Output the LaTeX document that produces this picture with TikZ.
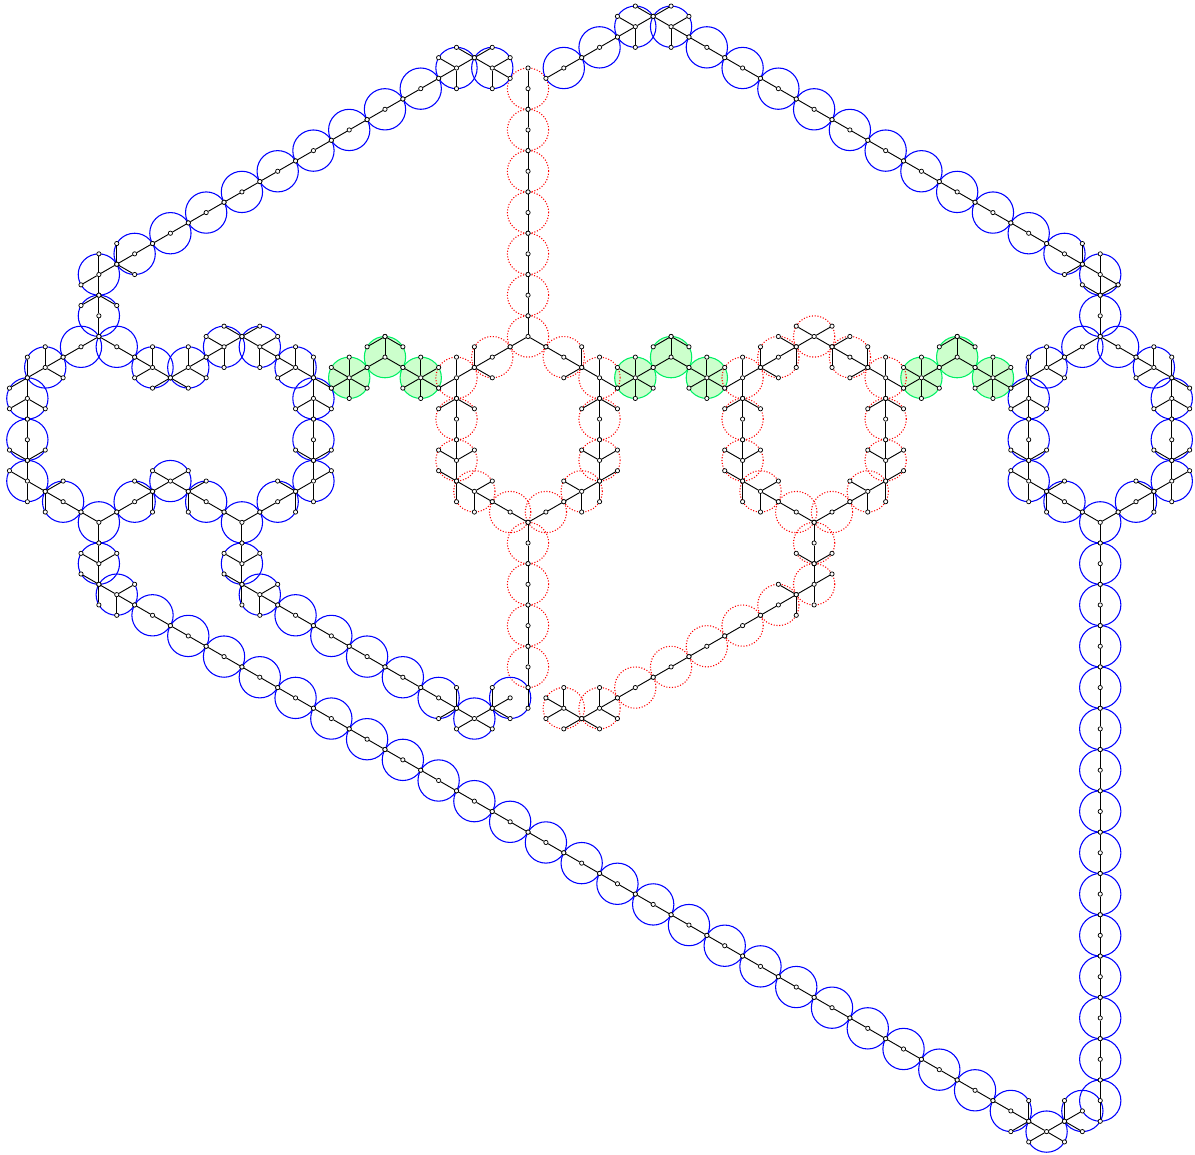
\documentclass[tikz,border=0pt]{standalone}
\usepackage{xcolor}
\usepackage{tikz}

\definecolor{ringgreen}{RGB}{0,240,100}
\definecolor{fillgreen}{RGB}{204,255,204}

\pgfdeclarelayer{rings}
\pgfsetlayers{rings,main}

\tikzset{
  vtx/.style={draw, circle, fill=white, inner sep=0pt, minimum size=3.2pt, line width=0.55pt},
  edge/.style={line width=0.7pt},
  ring/.style={draw, circle, inner sep=0pt, minimum size=30.97pt, line width=0.8pt},
  bluering/.style={ring, blue},
  redring/.style={ring, red, line width=0.8pt, dash pattern=on 0.8pt off 1.3pt},
  greenring/.style={ring, ringgreen, fill=fillgreen}
}

\newcommand{\spokes}[3]{%
  \node[vtx] (v#1x#2) at (#1,#2) {};
  \edef\dirlist{#3}
  \foreach \dir in \dirlist {
    \pgfmathtruncatemacro{\toI}{#1+{1,0,-1,-1,0,1}[\dir-1]}
    \pgfmathtruncatemacro{\toJ}{#2+{-1,-2,-1,1,2,1}[\dir-1]}
    \node[vtx] (v\toI x\toJ) at (\toI,\toJ) {};
    \draw[edge] (v#1x#2) -- (v\toI x\toJ);
  }
}
\newcommand{\gadget}[4]{%
  \begin{pgfonlayer}{rings}
    \node[#1] (c#2x#3) at (#2,#3) {};
  \end{pgfonlayer}
  \spokes{#2}{#3}{#4}
}
\newcommand{\wirerun}[5]{%
  \foreach \i in {#2} {
    \pgfmathtruncatemacro{\j}{#3*\i+#4}
    \gadget{#1}{\i}{\j}{#5}
  }
}

\begin{document}
\begin{tikzpicture}[x=13.41pt, y=-7.744pt]
  \useasboundingbox (-29.53,-6.586) rectangle (37.30,105.18);

  \foreach \g in {-8,8,24} {
    \pgfmathtruncatemacro{\gl}{\g-2}
    \pgfmathtruncatemacro{\gr}{\g+2}
    \gadget{greenring}{\gl}{30}{1,2,3,4,5,6}
    \gadget{greenring}{\g}{28}{2,4,6}
    \spokes{\g}{26}{4,6}
    \gadget{greenring}{\gr}{30}{1,2,3,4,5,6}
  }

  \foreach \j in {2,6,...,22,46,50,54,58} {\gadget{redring}{0}{\j}{2,5}}
  \foreach \i in {-4,4,12,20} {\gadget{redring}{\i}{34}{2,5}}
  \gadget{redring}{16}{46}{2,5}
  \foreach \i/\j in {-2/28,1/43,14/28,17/43} {\gadget{redring}{\i}{\j}{1,4}}
  \foreach \i/\j in {2/28,-1/43,18/28,15/43} {\gadget{redring}{\i}{\j}{3,6}}
  \wirerun{redring}{6,8,...,14}{-1}{66}{1,4}
  \foreach \i/\j/\dirs in {0/26/{2,4,6}, -4/30/{1,2,4,5}, -4/38/{1,2,3,5}, -3/41/{1,3,5,6},
    4/30/{2,3,5,6}, 4/38/{1,2,3,5}, 3/41/{1,3,4,5},
    16/26/{1,3,4,6}, 12/30/{1,2,4,5}, 12/38/{1,2,3,5}, 13/41/{1,3,5,6},
    20/30/{2,3,5,6}, 20/38/{1,2,3,5}, 19/41/{1,3,4,5},
    16/50/{1,2,4,5}, 4/62/{1,2,4,6}, 2/62/{2,3,4,6}} {
    \gadget{redring}{\i}{\j}{\dirs}
  }
  \foreach \i/\j/\dirs in {-3/29/{2,6}, -4/32/{4,6}, -4/40/{3,5}, 3/29/{2,4}, 4/32/{4,6}, 4/40/{1,5},
    15/27/{3,5}, 17/27/{1,5}, 13/29/{2,6}, 12/32/{4,6}, 12/40/{3,5},
    19/29/{2,4}, 20/32/{4,6}, 20/40/{1,5}, 16/48/{1,3}, 15/51/{3,5},
    3/63/{4,6}, 0/60/5} {
    \spokes{\i}{\j}{\dirs}
  }

  \foreach \j in {48,52,...,100} {\gadget{bluering}{32}{\j}{2,5}}
  \foreach \i/\j in {-24/24,-28/36,-12/36,32/24,28/36,36/36} {\gadget{bluering}{\i}{\j}{2,5}}
  \foreach \i/\j in {-25/27,31/27,-22/42,-14/42,34/42} {\gadget{bluering}{\i}{\j}{1,4}}
  \foreach \i/\j in {-23/27,33/27,-26/42,-18/42,30/42} {\gadget{bluering}{\i}{\j}{3,6}}
  \wirerun{bluering}{2,4}{-1}{2}{1,4}
  \wirerun{bluering}{-22,-20,...,-6}{-1}{-4}{1,4}
  \wirerun{bluering}{10,12,...,30}{1}{-12}{3,6}
  \wirerun{bluering}{-21,-19,...,27}{1}{74}{3,6}
  \wirerun{bluering}{-13,-11,...,-5}{1}{66}{3,6}
  \foreach \i/\j/\dirs in {-4/0/{1,3,4,5}, -2/0/{1,3,5,6}, 6/-4/{1,3,4,5}, 8/-4/{1,3,5,6},
    -17/27/{1,3,4,5}, -15/27/{1,3,5,6}, -24/20/{1,2,4,5}, -27/29/{1,2,4,6},
    -28/32/{2,4,5,6}, -28/40/{2,3,5,6}, -24/44/{1,3,5}, -24/48/{1,2,3,5}, -23/51/{1,3,5,6},
    -20/40/{1,3,4,6}, -16/44/{1,3,5}, -16/48/{1,2,3,5}, -15/51/{1,3,5,6},
    -12/40/{1,2,4,5}, -12/32/{2,4,5,6}, -13/29/{2,3,4,6}, -19/29/{1,2,4,6}, -21/29/{2,3,4,6},
    -3/63/{1,3,4,6}, -1/61/4, 29/103/{1,3,4,6}, 31/101/4,
    32/20/{2,3,5,6}, 29/29/{1,2,4,6}, 28/32/{2,4,5,6}, 28/40/{2,3,5,6},
    35/29/{2,3,4,6}, 36/32/{2,4,5,6}, 36/40/{1,2,4,5}, 32/44/{1,3,5}} {
    \gadget{bluering}{\i}{\j}{\dirs}
  }
  \foreach \i/\j/\dirs in {-3/-1/{1,3}, 7/-5/{1,3}, -16/26/{1,3}, -23/19/{2,6}, -24/22/{4,6},
    -28/30/{2,4}, -28/38/{1,3}, -27/41/{1,5}, -24/50/{3,5}, -21/41/{3,5}, -19/41/{1,5},
    -16/50/{3,5}, -13/41/{3,5}, -12/38/{1,3}, -12/30/{2,6}, -20/30/{4,6},
    -4/62/{2,4}, -2/62/{2,6}, 28/102/{2,4}, 30/102/{2,6},
    31/19/{2,4}, 32/22/{1,3}, 28/30/{2,4}, 28/38/{1,3}, 29/41/{1,5},
    36/30/{2,6}, 36/38/{1,3}, 35/41/{3,5}} {
    \spokes{\i}{\j}{\dirs}
  }
\end{tikzpicture}
\end{document}
